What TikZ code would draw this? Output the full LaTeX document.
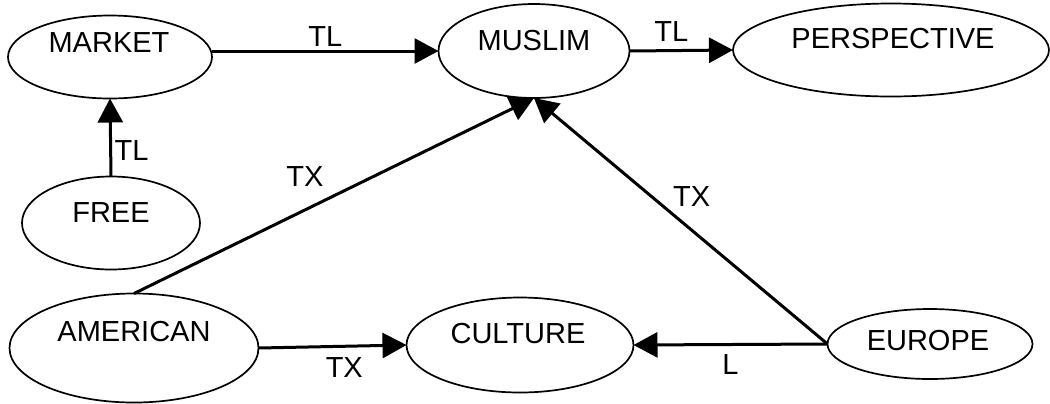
\documentclass[tikz,border=0pt]{standalone}
\usepackage{fontspec}
\setmainfont{Liberation Sans}
\usetikzlibrary{arrows.meta,shapes.geometric}
\begin{document}
\begin{tikzpicture}[x=0.5pt,y=-0.5pt,
  ell/.style={draw, line width=0.85pt, ellipse, inner sep=0pt, outer sep=0pt},
  txt/.style={font=\fontsize{14.5pt}{17pt}\selectfont, inner sep=0pt},
  conn/.style={line width=1.5pt, -{Triangle[length=12pt,width=12.5pt]}},
  lbl/.style={font=\fontsize{14.5pt}{17pt}\selectfont, inner sep=0pt}]
\useasboundingbox (0,0) rectangle (1050,403);
% nodes
\node[ell, minimum width=102pt, minimum height=41.5pt] (market) at (110,57) {};
\node[ell, minimum width=95.5pt, minimum height=47pt] (muslim) at (534,51) {};
\node[ell, minimum width=158pt, minimum height=46.5pt] (persp) at (891,50) {};
\node[ell, minimum width=89pt, minimum height=46.5pt] (free) at (111,223) {};
\node[ell, minimum width=124.5pt, minimum height=54.5pt] (american) at (134,348) {};
\node[ell, minimum width=113.5pt, minimum height=47.5pt] (culture) at (520,345) {};
\node[ell, minimum width=102.5pt, minimum height=35pt] (europe) at (930,344) {};
% texts
\node[txt] (tmarket) at (109,43) {MARKET};
\node[txt] (tmuslim) at (534,41) {MUSLIM};
\node[txt] (tpersp) at (893,39) {PERSPECTIVE};
\node[txt] (tfree) at (111,213) {FREE};
\node[txt] (tamerican) at (134,332) {AMERICAN};
\node[txt] (tculture) at (518,334) {CULTURE};
\node[txt] (teurope) at (928,341) {EUROPE};
% connectors
\draw[conn] (market.east |- muslim.west) -- (muslim.west)
  node[lbl, pos=0.5, shift={(0,-14)}] {TL};
\draw[conn] (muslim.east) -- (persp.west)
  node[lbl, pos=0.5, shift={(-10,-18.5)}] {TL};
\draw[conn] (free.north) -- (market.south)
  node[lbl, pos=0.35, shift={(21,1)}] {TL};
\draw[conn] (american.north) -- (muslim.south)
  node[lbl, pos=0.5, shift={(-29,-19)}] {TX};
\draw[conn] (american.east) -- (culture.west)
  node[lbl, pos=0.6, shift={(-3,21)}] {TX};
\draw[conn] (europe.west) -- (culture.east)
  node[lbl, pos=0.5, shift={(0,20)}] {L};
\draw[conn] (europe.west) -- (muslim.south)
  node[lbl, pos=0.5, shift={(11,-24)}] {TX};
\end{tikzpicture}
\end{document}
